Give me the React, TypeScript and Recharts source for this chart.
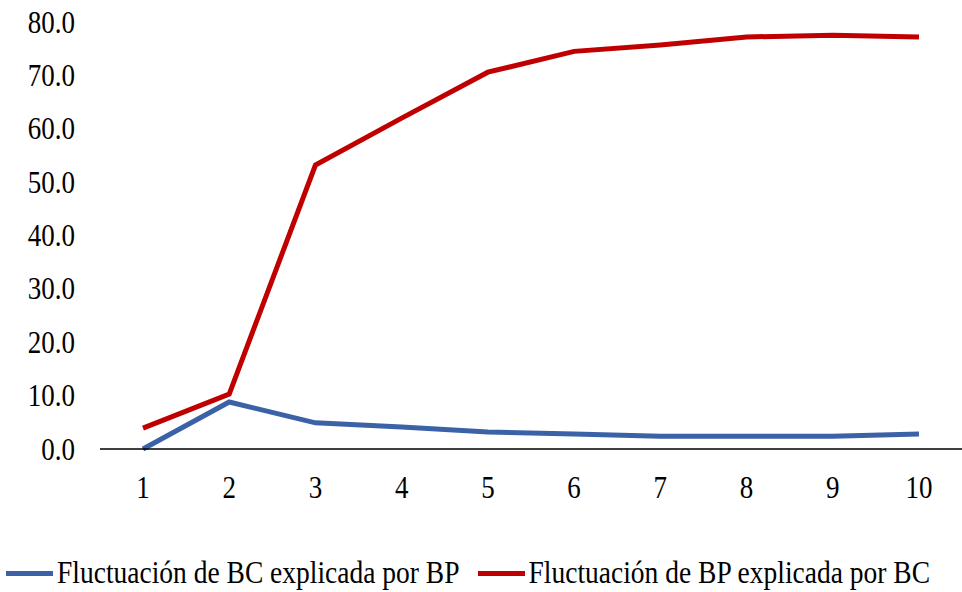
import { Line, LineChart, XAxis, YAxis } from "recharts";

const periods = ["1", "2", "3", "4", "5", "6", "7", "8", "9", "10"];
const bcByBp = [0.0, 8.8, 4.9, 4.1, 3.2, 2.8, 2.4, 2.4, 2.4, 2.8];
const bpByBc = [3.9, 10.3, 53.2, 62.0, 70.6, 74.5, 75.7, 77.2, 77.5, 77.2];
const yTicks = [0, 10, 20, 30, 40, 50, 60, 70, 80];

const SERIES = [
  { key: "bc", name: "Fluctuación de BC explicada por BP", color: "#3B62A6" },
  { key: "bp", name: "Fluctuación de BP explicada por BC", color: "#C00000" },
];

const FONT = '"Liberation Serif", "Times New Roman", serif';
// glyphs are drawn a bit taller than wide
const STRETCH = 1.15;

const data = periods.map((p, i) => ({
  period: p,
  bc: bcByBp[i],
  bp: bpByBc[i],
}));

const YTick = ({ x, y, payload }: any) => (
  <g transform={`translate(${x},${y}) scale(1,${STRETCH})`}>
    <text
      textAnchor="end"
      dy="0.34em"
      fill="#000"
      fontSize={27}
      fontFamily={FONT}
    >
      {Number(payload.value).toFixed(1)}
    </text>
  </g>
);

const XTick = ({ x, y, payload }: any) => (
  <g transform={`translate(${x},${y}) scale(1,${STRETCH})`}>
    <text
      textAnchor="middle"
      dy="0.34em"
      fill="#000"
      fontSize={27}
      fontFamily={FONT}
    >
      {payload.value}
    </text>
  </g>
);

// legend sits under the x axis, drawn as plain html
const ChartLegend = () => (
  <div
    style={{
      position: "absolute",
      left: 6,
      top: 557,
      height: 32,
      display: "flex",
      alignItems: "center",
      fontFamily: FONT,
      fontSize: 27.5,
      lineHeight: "32px",
      color: "#000",
      whiteSpace: "nowrap",
    }}
  >
    {SERIES.map((s) => (
      <div
        key={s.key}
        style={{ display: "flex", alignItems: "center", marginRight: 18 }}
      >
        <span
          style={{
            display: "inline-block",
            width: 47,
            height: 5,
            background: s.color,
            marginRight: 4,
          }}
        />
        <span style={{ display: "inline-block", transform: "scaleY(1.12)" }}>
          {s.name}
        </span>
      </div>
    ))}
  </div>
);

export default function App() {
  return (
    <div
      style={{
        position: "absolute",
        left: 0,
        top: 0,
        width: 962,
        height: 592,
        background: "#fff",
        fontFamily: FONT,
      }}
    >
      <LineChart
        width={962}
        height={592}
        data={data}
        margin={{ top: 22, right: 0, left: 0, bottom: 83 }}
      >
        <XAxis
          dataKey="period"
          padding={{ left: 43, right: 43 }}
          axisLine={{ stroke: "#000", strokeWidth: 1.5 }}
          tickLine={false}
          tickSize={0}
          tickMargin={38}
          tick={<XTick />}
          height={60}
        />
        <YAxis
          domain={[0, 80]}
          ticks={yTicks}
          axisLine={false}
          tickLine={false}
          tickSize={0}
          tickMargin={25}
          width={100}
          tick={<YTick />}
        />
        {SERIES.map((s) => (
          <Line
            key={s.key}
            type="linear"
            dataKey={s.key}
            name={s.name}
            stroke={s.color}
            strokeWidth={5}
            dot={false}
            isAnimationActive={false}
          />
        ))}
      </LineChart>
      <ChartLegend />
    </div>
  );
}
